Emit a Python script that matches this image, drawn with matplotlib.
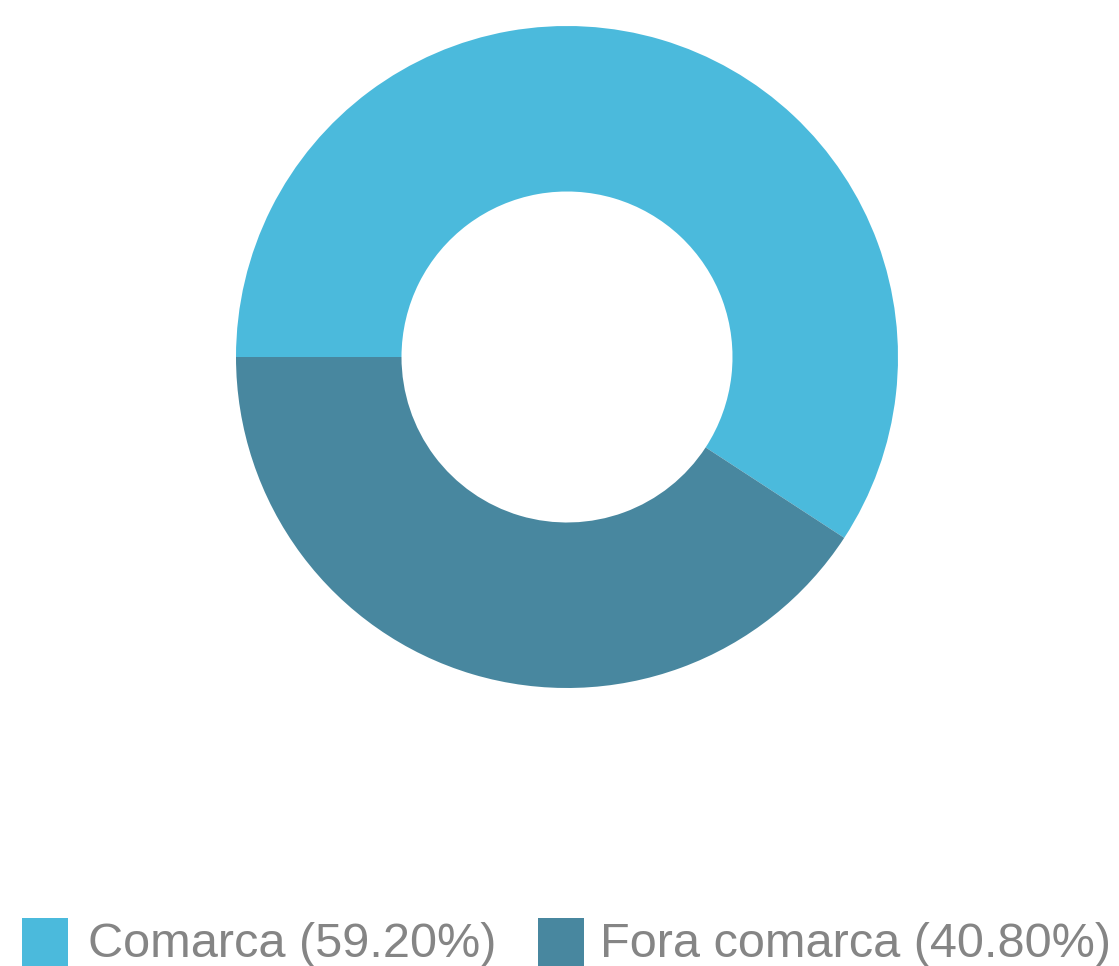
import matplotlib
matplotlib.use('Agg')
import matplotlib.pyplot as plt
from matplotlib.patches import Rectangle

labels = ['Comarca', 'Fora comarca']
values = [59.20, 40.80]
colors = ['#4BBADC', '#48879F']

W, H = 1119, 966
fig = plt.figure(figsize=(W / 100, H / 100), dpi=100)

# donut centre (567, 357) px, outer radius 331 px
cx, cy, r = 567, 357, 331
ax = fig.add_axes([(cx - r) / W, (H - cy - r) / H, 2 * r / W, 2 * r / H])
ax.pie(values, colors=colors, startangle=180, counterclock=False,
       radius=1, wedgeprops=dict(width=0.5, linewidth=0))
ax.set_xlim(-1, 1)
ax.set_ylim(-1, 1)
ax.set_aspect('equal')
ax.axis('off')

# legend drawn by hand along the bottom edge
x_sq = [22, 538]
x_txt = [88, 600]
for i, lab in enumerate(labels):
    fig.add_artist(Rectangle((x_sq[i] / W, 0), 46 / W, 48 / H,
                             transform=fig.transFigure, color=colors[i], lw=0))
    fig.text(x_txt[i] / W, (H - 957) / H, f'{lab} ({values[i]:.2f}%)',
             fontsize=35, color='#858585', family='Liberation Sans',
             va='baseline', ha='left')

fig.savefig('out.png', dpi=100)
